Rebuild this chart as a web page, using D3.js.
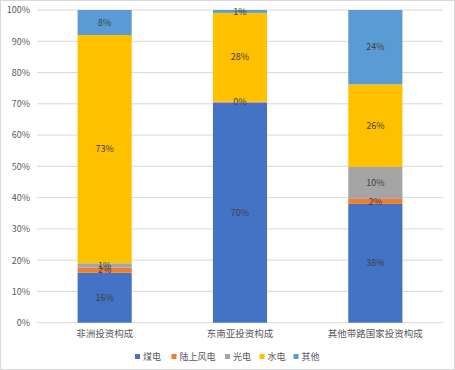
<!DOCTYPE html>
<html><head><meta charset="utf-8">
<script src="https://cdn.jsdelivr.net/npm/d3@7"></script>
<style>body{margin:0;background:#fff}svg{display:block}text{font-family:"Noto Sans CJK SC","Noto Sans",sans-serif}</style>
</head><body><svg id="c" width="455" height="370"></svg>
<script>
const categories = ["非洲投资构成", "东南亚投资构成", "其他带路国家投资构成"];
const seriesNames = ["煤电", "陆上风电", "光电", "水电", "其他"];
const coal  = [16.0, 70.4, 38.0];
const wind  = [1.6, 0.3, 1.6];
const solar = [1.4, 0, 10.2];
const hydro = [73.0, 28.4, 26.4];
const other = [8.0, 0.9, 23.8];
const yTicks = [0,10,20,30,40,50,60,70,80,90,100];
const colors = ["#4472C4", "#ED7D31", "#A5A5A5", "#FFC000", "#5B9BD5"];

const values = [coal, wind, solar, hydro, other];
const rows = categories.map((c,i)=>{const r={cat:c}; seriesNames.forEach((s,j)=>r[s]=values[j][i]); return r;});
const stack = d3.stack().keys(seriesNames)(rows);

const svg = d3.select("#c");
svg.append("rect").attr("x",0.5).attr("y",0.5).attr("width",454).attr("height",369).attr("fill","#fff").attr("stroke","#D9D9D9");

const x = d3.scaleBand().domain(categories).range([37,443]).paddingInner(0.6).paddingOuter(0.3);
const y = d3.scaleLinear().domain([0,100]).range([322.7,10]);

const g = svg.append("g");
// gridlines
g.selectAll("line.grid").data(yTicks).join("line")
  .attr("x1",37).attr("x2",443).attr("y1",d=>y(d)).attr("y2",d=>y(d))
  .attr("stroke","#D9D9D9").attr("stroke-width",1);

// y axis labels
const yAxis = d3.axisLeft(y).tickValues(yTicks).tickFormat(d=>d+"%").tickSize(0).tickPadding(7);
const ya = svg.append("g").attr("transform","translate(37,0)").call(yAxis);
ya.select(".domain").remove();
ya.selectAll("text").attr("fill","#595959").style("font-size","9px");

// bars
const layers = svg.append("g").selectAll("g").data(stack).join("g").attr("fill",(d,i)=>colors[i]);
layers.selectAll("rect").data(d=>d.map(v=>({v,cat:v.data.cat}))).join("rect")
  .attr("x",d=>x(d.cat)).attr("width",x.bandwidth())
  .attr("y",d=>y(d.v[1])).attr("height",d=>y(d.v[0])-y(d.v[1]));

// labels
const lab = svg.append("g");
stack.forEach((layer,j)=>{
  layer.forEach(v=>{
    const val = v[1]-v[0];
    if (val<=0) return;
    lab.append("text").attr("x",x(v.data.cat)+x.bandwidth()/2).attr("y",(y(v[0])+y(v[1]))/2)
      .attr("text-anchor","middle").attr("dy","0.35em").attr("fill","#404040").style("font-size","9px")
      .text(Math.round(val)+"%");
  });
});

// x axis labels
const xAxis = d3.axisBottom(x).tickSize(0).tickPadding(8);
const xa = svg.append("g").attr("transform","translate(0,322.7)").call(xAxis);
xa.select(".domain").remove();
xa.selectAll("text").attr("fill","#595959").style("font-size","9.5px");

// legend
const legX = [135, 171.5, 225, 259.5, 293.5];
const leg = svg.append("g").selectAll("g").data(seriesNames).join("g")
  .attr("transform",(d,i)=>`translate(${legX[i]},356.5)`);
leg.append("rect").attr("x",0).attr("y",-2.5).attr("width",5).attr("height",5).attr("fill",(d,i)=>colors[i]);
leg.append("text").attr("x",8).attr("y",0).attr("dy","0.35em").attr("fill","#595959").style("font-size","9px").text(d=>d);
</script></body></html>
